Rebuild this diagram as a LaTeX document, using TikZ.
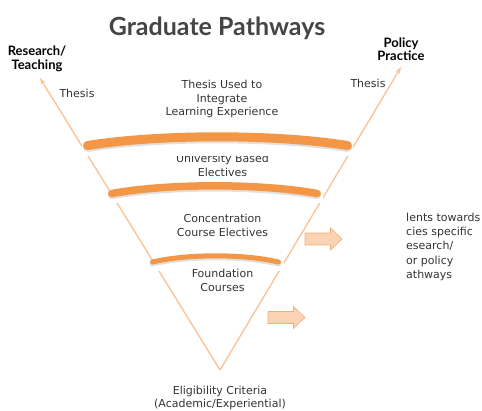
\documentclass[tikz,border=0pt]{standalone}
\usepackage{fontspec}
\setmainfont{DejaVu Sans}
\newfontfamily\titlefont{Lato}
\usetikzlibrary{arrows.meta}

\definecolor{bandorange}{HTML}{F39645}
\definecolor{lineorange}{HTML}{F8C49A}
\definecolor{arrowfill}{HTML}{FBD3B4}
\definecolor{arrowedge}{HTML}{F4AE7A}
\definecolor{textgray}{HTML}{333333}

\tikzset{
  body/.style={font=\fontsize{11}{13.7}\selectfont, text=textgray, align=center, inner sep=0pt},
  pathlabel/.style={font=\titlefont\bfseries\fontsize{13}{13.5}\selectfont, align=center, inner sep=0pt},
  vline/.style={draw=lineorange, line width=1.4pt},
}

\begin{document}
\begin{tikzpicture}[x=1pt,y=-1pt]
      \useasboundingbox (0,0) rectangle (482,410);

      \node[anchor=base, font=\titlefont\bfseries\fontsize{25}{30}\selectfont, text=black!73] (title) at (217,35) {Graduate Pathways};

      \coordinate (apex) at (220,370);
      \coordinate (ltip) at (40,78);
      \coordinate (rtip) at (401,67);
      \node[pathlabel] (research) at (37,59) {Research/\\Teaching};
      \node[pathlabel] (policy) at (401,49) {Policy\\Practice};

      \draw[vline, -{Stealth[length=7pt,width=5pt]}] (apex) -- (ltip);
      \draw[vline, -{Stealth[length=7pt,width=5pt]}] (apex) -- (rtip);

      \node[body] (university) at (222.5,165.5) {University Based\\Electives};

      % white under the bands
      \foreach \xa/\xb/\ye/\yc in {82/353/145/156, 106/323/193/203, 148/284/261/271}{
        \fill[white] (\xa,\ye) rectangle (\xb,\yc);
      }

      % the bands
      \foreach \xa/\xb/\ye/\ym/\w in {87.5/347.5/145.5/136.8/9, 111.8/317.2/193.5/185.8/7.5, 152.5/278.5/262/255.8/5}{
        \pgfmathsetmacro\topc{(\ym-0.25*\ye)/0.75}
        \pgfmathsetmacro\bandin{0.28*(\xb-\xa)}
        \draw[bandorange, line width=\w pt, line cap=round,
              preaction={draw=black, opacity=.12, line width=\w pt, line cap=round, transform canvas={yshift=-2pt}}]
          (\xa,\ye) .. controls (\xa+\bandin,\topc) and (\xb-\bandin,\topc) .. (\xb,\ye);
      }

      \node[body] (thesisleft) at (77,93) {Thesis};
      \node[body] (thesisright) at (368,83) {Thesis};
      \node[body] (integrate) at (222,99) {Thesis Used to\\Integrate\\Learning Experience};
      \node[body] (concentration) at (222.5,225.5) {Concentration\\Course Electives};
      \node[body] (foundation) at (222.5,280.5) {Foundation\\Courses};
      \node[body] (eligibility) at (220,398) {Eligibility Criteria\\(Academic/Experiential)};
      \node[body, font=\fontsize{11}{14.4}\selectfont, align=left, anchor=north west] (outcome) at (406,212.5) {lents towards\\cies specific\\esearch/\\or policy\\athways};

      % block arrows
      \foreach \ax/\ay in {305/239, 268/317.5}{
        \filldraw[fill=arrowfill, draw=arrowedge, line width=.6pt] (\ax,\ay-6) -- ++(25.5,0) -- ++(0,-5) -- (\ax+37,\ay) -- (\ax+25.5,\ay+11) -- ++(0,-5) -- (\ax,\ay+6) -- cycle;
      }
    \end{tikzpicture}
\end{document}
